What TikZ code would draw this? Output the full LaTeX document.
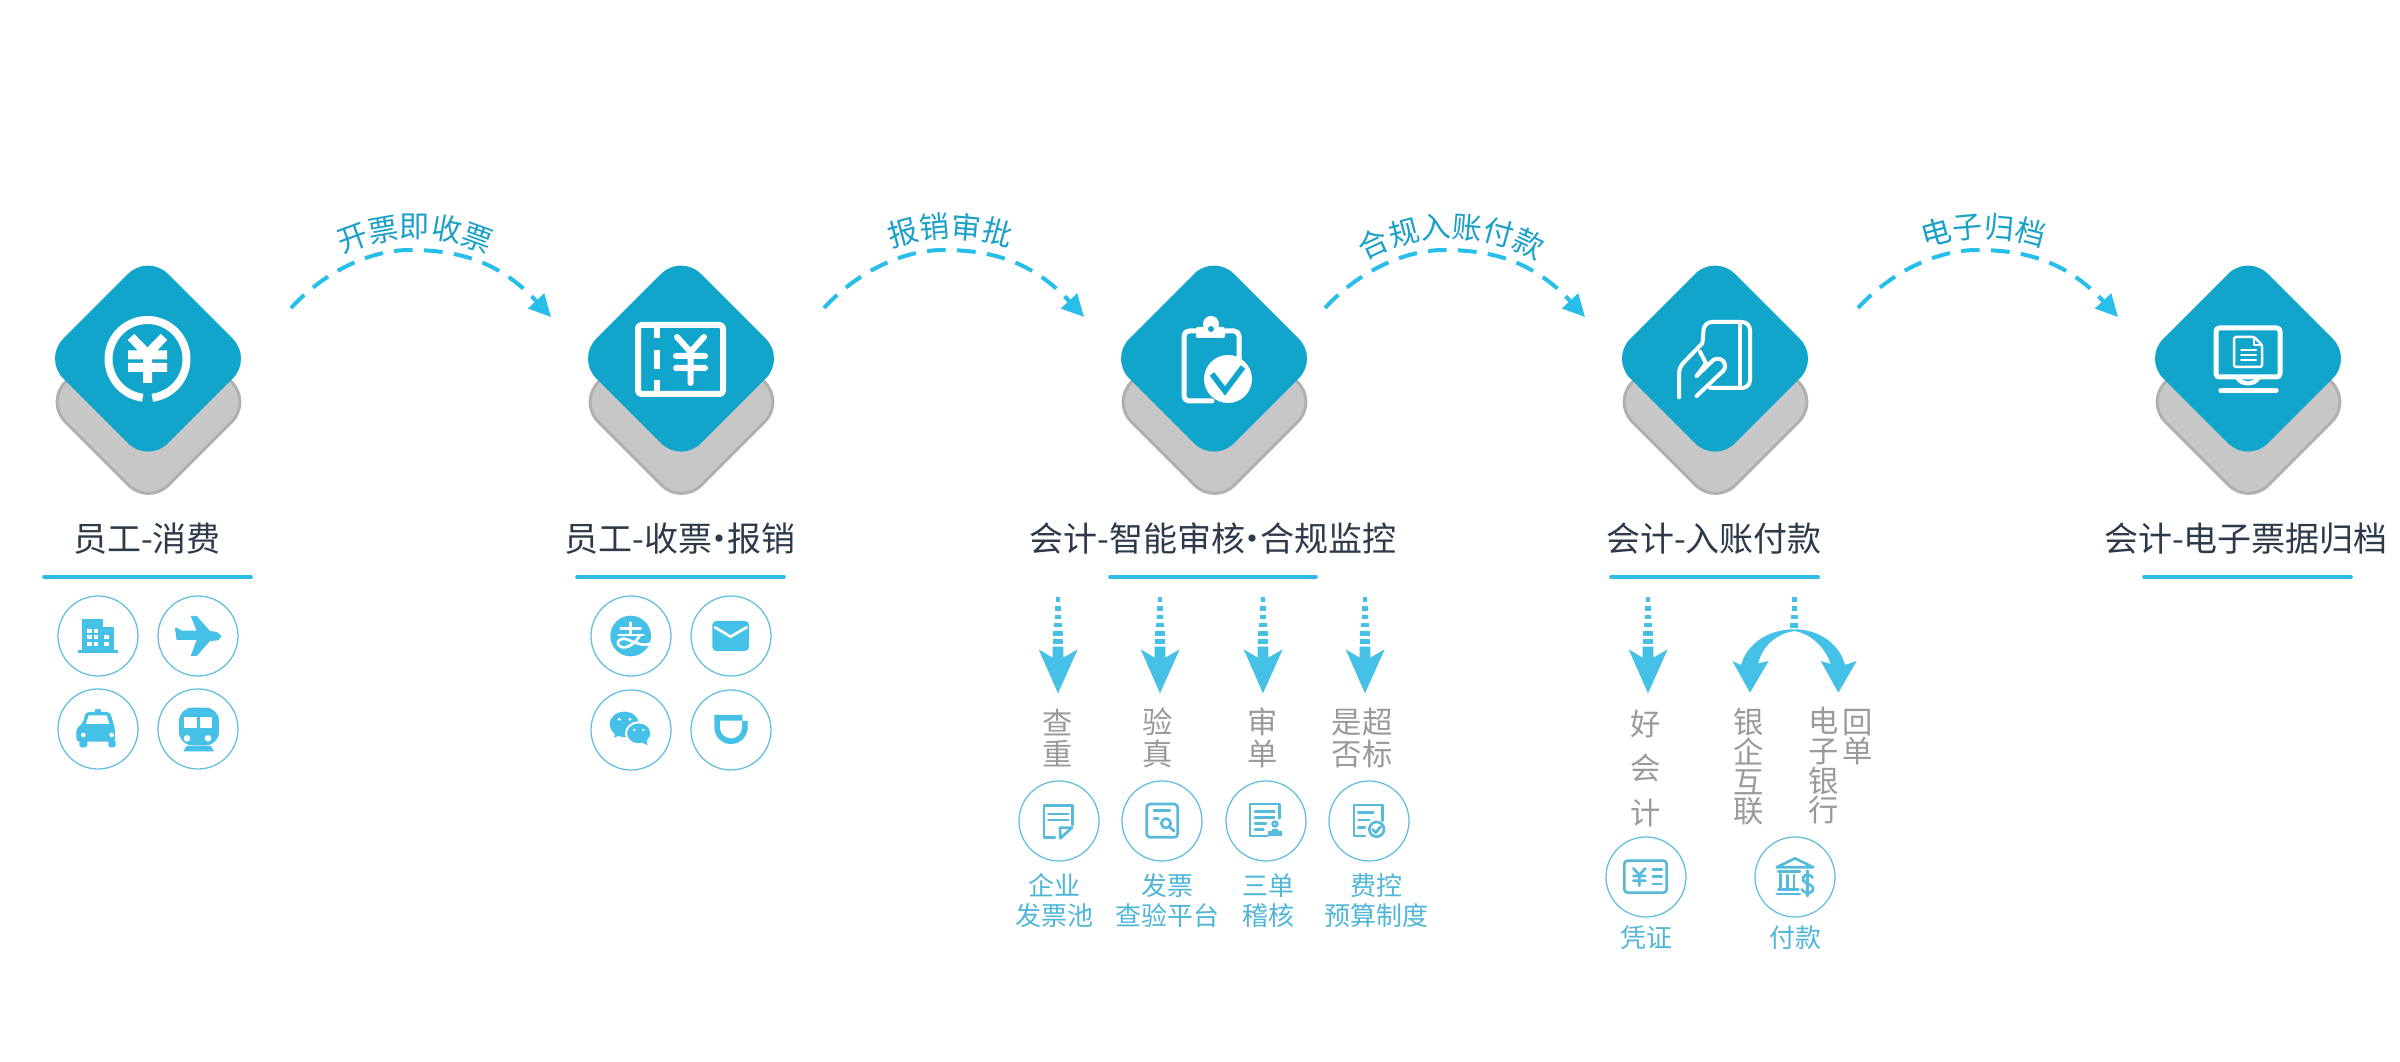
\documentclass[tikz,border=0pt]{standalone}
\usepackage{fontspec}
\setmainfont{Noto Sans CJK SC}
\usetikzlibrary{arrows.meta,decorations.text}
\definecolor{bluedia}{HTML}{11A5CC}
\definecolor{greydia}{HTML}{C7C7C8}
\definecolor{greyedge}{HTML}{B0B0B1}
\definecolor{flowc}{HTML}{27BFEA}
\definecolor{rulec}{HTML}{2FBDE6}
\definecolor{lblc}{HTML}{1BA0C8}
\definecolor{titlec}{HTML}{2D3A4A}
\definecolor{iconc}{HTML}{45C0E6}
\definecolor{ringc}{HTML}{62C0DE}
\definecolor{strokec}{HTML}{58BADB}
\definecolor{greytx}{HTML}{9A9A9A}
\definecolor{smallc}{HTML}{4FB6D8}
\def\lblfont{\fontsize{9}{10}\selectfont\color{lblc}}
\newcommand\mdot{\hspace{-0.27em}·\hspace{-0.27em}}
\newcommand\stagediamond[1]{%
  \path[fill=greydia,draw=greyedge,line width=0.9pt,rounded corners=8.4pt]
    (#1+0.5,299)--(#1+103.5,402)--(#1+0.5,505)--(#1-102.5,402)--cycle;
  \path[fill=bluedia,rounded corners=8.4pt]
    (#1,254)--(#1+104.6,358.6)--(#1,463.2)--(#1-104.6,358.6)--cycle;}
\newcommand\flowarc[2]{%
  \coordinate (#1s) at (291+#2,308);
  \coordinate (#1m) at (410+#2,250);
  \coordinate (#1e) at (551+#2,317);
  \draw[flowline] (#1s) .. controls +(35,-38) and +(-38,0) .. (#1m)
     .. controls +(48,0) and +(-52,-56) .. (#1e);}
\newcommand\arclabel[3]{%
  \path[decorate,decoration={text along path,text align=center,text={|\lblfont|#3}}]
    (#1-110,#2+40) .. controls (#1-46.4,#2-13.4) and (#1+46.4,#2-13.4) .. (#1+110,#2+40);}
\newcommand\dashbar[2]{%
  \foreach \ya/\yb/\hw in {#2}{\fill[iconc] (#1-\hw,\ya) rectangle (#1+\hw,\yb);}}
\newcommand\dnarrow[1]{%
  \begin{scope}[shift={(#1,580)},scale=1/3]
    \dashbar{0}{50/65/7,78/92/8,105/118/10,128/142/12,152/168/14,177/192/16}
    \fill[iconc] (-16,200)--(16,200)--(16,233)--(59,208)--(0,340)--(-58,208)--(-16,233)--cycle;
  \end{scope}}
\tikzset{
  flowline/.style={draw=flowc,line width=1.2pt,dash pattern=on 5.6pt off 3.4pt,
     -{Triangle[length=6.6pt,width=6.4pt]}},
  ruleline/.style={draw=rulec,line width=1.1pt,line cap=round},
  stagetitle/.style={anchor=base,inner sep=0pt,text=titlec,font=\fontsize{10.2}{12}\selectfont},
  ring/.style={circle,draw=ringc,line width=0.38pt,minimum size=24pt,inner sep=0pt,fill=white},
  greytext/.style={align=center,inner sep=0pt,text=greytx,font=\fontsize{9.1}{9.5}\selectfont},
  smalltext/.style={align=center,inner sep=0pt,text=smallc,font=\fontsize{7.8}{9}\selectfont},
  wh/.style={draw=white,line width=1.8pt,line cap=round,line join=round},
  sk/.style={draw=strokec,line width=0.8pt,line cap=round,line join=round},
  zm/.style={scale=1/3},
}
\begin{document}
\begin{tikzpicture}[x=0.3pt,y=-0.3pt]
\useasboundingbox (0,0) rectangle (2400,1062);
\fill[white] (0,0) rectangle (2400,1062);
% diamonds
\stagediamond{148}\stagediamond{681}\stagediamond{1214}\stagediamond{1715}\stagediamond{2248}
% flows
\flowarc{fa}{0}\flowarc{fb}{533}\flowarc{fc}{1034}\flowarc{fd}{1567}
\arclabel{415}{238}{开票即收票}
\arclabel{950}{238}{报销审批}
\arclabel{1451}{238}{合规入账付款}
\arclabel{1983}{238}{电子归档}
% titles
\node[stagetitle] (t1) at (147,552) {员工-消费};
\node[stagetitle] (t2) at (680,552) {员工-收票\mdot 报销};
\node[stagetitle] (t3) at (1213,552) {会计-智能审核\mdot 合规监控};
\node[stagetitle] (t4) at (1714,552) {会计-入账付款};
\node[stagetitle] (t5) at (2246,552) {会计-电子票据归档};
\draw[ruleline] (44,577)--(251,577);
\draw[ruleline] (577,577)--(784,577);
\draw[ruleline] (1110,577)--(1316,577);
\draw[ruleline] (1611,577)--(1818,577);
\draw[ruleline] (2144,577)--(2351,577);
% --- white diamond icons
% yuan ring
\draw[wh,line width=2.4pt,line cap=butt] (147.5,359) ++(97:39) arc (97:443:39);
\draw[wh,line width=2.7pt,line cap=butt] (131,337)--(147.5,354)--(164,337) (128,355)--(167,355) (128,367.5)--(167,367.5) (147.5,354)--(147.5,383);
% ticket
\draw[wh,rounded corners=1pt] (638,325) rectangle (723,394);
\draw[wh,line width=1.8pt,line cap=butt] (657,328)--(657,338) (657,350)--(657,369) (657,380)--(657,391);
\draw[wh] (677,337)--(690.5,352)--(704,337) (676,356)--(705,356) (676,368)--(705,368) (690.5,352)--(690.5,383);
% clipboard
\draw[wh,line width=1.5pt,rounded corners=1.5pt] (1196,331)--(1184,331)--(1184,401)--(1212,401) (1226,331)--(1239,331)--(1239,362);
\fill[white,rounded corners=0.6pt] (1196,327) rectangle (1225,338);
\fill[white] (1211,324) circle (8);
\fill[bluedia] (1211,329) circle (3);
\fill[white] (1228,379) circle (24);
\draw[draw=bluedia,line width=1.7pt] (1212,374)--(1225,391)--(1243,367);
% hand and card
\begin{scope}[shift={(1660,310)},zm]
  \draw[wh,line width=1.2pt,rounded corners=2.4pt] (128,95)--(132,36)--(270,36)--(270,234)--(150,234);
  \draw[wh,line width=1.2pt] (240,38)--(240,232);
  \draw[wh,line width=1.2pt,rounded corners=1.8pt] (57,262)--(57,172)--(127,100);
  \draw[wh,line width=1.2pt] (120,125)--(138,160)--(110,198);
  \draw[wh,line width=1.2pt] (110,198)--(160,150) .. controls (185,135) and (205,165) .. (190,182)--(110,258);
\end{scope}
% monitor
\draw[wh,line width=1.5pt,rounded corners=1pt] (2216,328) rectangle (2280,377);
\draw[wh,line width=1.3pt] (2238,378) .. controls (2240,385) and (2256,385) .. (2258,378);
\draw[wh,line width=1.6pt] (2221,390.5)--(2276,390.5);
\draw[wh,line width=0.75pt,rounded corners=0.5pt] (2254,337)--(2234,337)--(2234,367)--(2262,367)--(2262,345)--cycle;
\draw[wh,line width=0.75pt] (2254,337)--(2254,345)--(2262,345);
\draw[wh,line width=0.6pt] (2241,350)--(2256,350) (2241,355)--(2256,355) (2241,360)--(2256,360);
% --- small rings
\foreach \nm/\cx/\cy in {r1/98/636,r2/198/636,r3/98/729,r4/198/729,
   r5/631/636,r6/731/636,r7/631/730,r8/731/730,
   r9/1059/821,r10/1162/821,r11/1266/821,r12/1369/821,
   r13/1646/877,r14/1795/877}
  \node[ring] (\nm) at (\cx,\cy) {};
% building / plane / taxi / train
\begin{scope}[shift={(0,560)},zm]
  \fill[iconc] (246,178) rectangle (309,275);
  \fill[iconc] (309,202) rectangle (342,275);
  \fill[iconc] (234,270) rectangle (354,279);
  \foreach \wx in {262,282}\foreach \wy in {206,226,246}\fill[white] (\wx,\wy) rectangle +(13,12);
  \fill[white] (313,226) rectangle +(13,12);
  \fill[white] (313,246) rectangle +(13,12);
  \fill[iconc] (665,228)--(650,216)--(630,213)--(590,168)--(572,168)--(590,212)--(545,212)--(530,203)--(525,205)--(530,240)--(590,240)--(572,288)--(590,288)--(630,243)--(655,241)--cycle;
  \fill[iconc] (285,447) rectangle (303,456);
  \fill[iconc,rounded corners=1pt] (229,545)--(229,505)--(248,490)--(258,456)--(330,456)--(340,490)--(345,505)--(345,545)--cycle;
  \fill[iconc,rounded corners=0.5pt] (238,540) rectangle (262,562);
  \fill[iconc,rounded corners=0.5pt] (325,540) rectangle (347,562);
  \fill[white] (258,492)--(266,466)--(320,466)--(328,492)--cycle;
  \fill[white] (250,525) circle (7);
  \fill[white] (335,525) circle (7);
  \fill[iconc,rounded corners=4pt] (537,443) rectangle (657,556);
  \fill[white] (551,470) rectangle (590,503);
  \fill[white] (600,470) rectangle (635,503);
  \fill[white] (561,535) circle (10);
  \fill[white] (624,535) circle (10);
  \fill[iconc] (560,558)--(632,558)--(642,574)--(550,574)--cycle;
\end{scope}
% alipay / mail / wechat / didi
\begin{scope}[shift={(590,590)},zm]
  \fill[iconc] (122,138) circle (61);
  \draw[wh,line width=0.8pt] (92,115)--(152,115) (122,98)--(122,135) (85,135)--(160,135);
  \draw[wh,line width=0.8pt,line cap=butt] (150,135) .. controls (135,165) and (105,178) .. (92,170)
     .. controls (72,160) and (90,140) .. (110,148) .. controls (130,155) and (160,172) .. (182,160);
  \fill[iconc,rounded corners=1.2pt] (367,93) rectangle (477,183);
  \draw[wh,line width=0.8pt] (375,112)--(422,140)--(470,112);
  \fill[iconc] (103,403) ellipse (44 and 38);
  \fill[iconc] (75,430)--(72,443)--(95,434)--cycle;
  \fill[white] (88,388) circle (5);
  \fill[white] (120,388) circle (5);
  \fill[iconc,draw=white,line width=0.6pt] (146,430) ellipse (38 and 33);
  \fill[iconc] (158,458)--(172,466)--(170,446)--cycle;
  \fill[white] (133,420) circle (4);
  \fill[white] (160,420) circle (4);
  \fill[iconc] (373,375)--(457,375)--(457,393)--(473,393)--(473,412) arc (0:180:50)--cycle;
  \fill[white] (390,392)--(456,392)--(456,412) arc (0:180:33)--cycle;
\end{scope}
% document icons
\begin{scope}[shift={(1030,790)},zm]
  \draw[sk] (75,143)--(42,143)--(42,47)--(128,47)--(128,105);
  \draw[sk] (55,72)--(115,72) (55,90)--(115,90);
  \draw[sk] (90,113)--(126,113)--(91,145)--cycle;
  \draw[sk,rounded corners=1pt] (350,42) rectangle (443,142);
  \draw[sk] (372,62)--(420,62) (372,85)--(385,85);
  \draw[sk] (408,100) circle (14);
  \draw[sk] (418,110)--(432,123);
  \draw[sk] (712,138)--(660,138)--(660,42)--(748,42)--(748,85);
  \draw[sk] (675,65)--(733,65) (675,83)--(733,83) (675,100)--(708,100) (675,118)--(700,118);
  \draw[sk] (735,102) circle (7);
  \draw[sk] (728,122)--(742,122);
  \fill[strokec] (715,124) rectangle (755,138);
  \draw[sk] (1005,138)--(972,138)--(972,45)--(1058,45)--(1058,92);
  \draw[sk] (985,67)--(1030,67) (985,90)--(1018,90) (985,113)--(1005,113);
  \draw[sk] (1040,118) circle (22);
  \draw[sk] (1028,118)--(1037,128)--(1052,110);
\end{scope}
% voucher, bank
\begin{scope}[shift={(1580,580)},zm]
  \draw[sk,rounded corners=1pt] (133,842) rectangle (260,938);
  \draw[sk] (160,865)--(178,885)--(196,865) (160,888)--(196,888) (160,902)--(196,902) (178,885)--(178,918);
  \draw[sk] (218,868)--(245,868) (218,890)--(245,890) (218,912)--(245,912);
  \draw[sk] (590,862)--(645,835)--(700,862)--cycle;
  \draw[sk] (595,875)--(660,875) (602,882)--(602,925) (622,885)--(622,925) (642,885)--(642,925) (595,928)--(655,928) (590,942)--(660,942);
  \draw[sk] (698,893) .. controls (685,875) and (662,888) .. (670,902) .. controls (680,916) and (705,912) .. (698,932) .. controls (690,945) and (670,938) .. (665,928);
  \draw[sk] (682,872)--(682,948);
\end{scope}
% down arrows
\dnarrow{1058}\dnarrow{1160}\dnarrow{1263}\dnarrow{1365}\dnarrow{1648}
% fork arrow
\begin{scope}[shift={(1580,580)},zm]
  \dashbar{643}{50/65/7,78/92/8,105/118/10,128/144/12}
  \fill[iconc] (643,148) .. controls (560,148) and (500,195) .. (483,255)--(457,243)--(510,338)--(566,243)--(535,250) .. controls (545,200) and (590,160) .. (643,153) .. controls (690,160) and (735,200) .. (752,252)--(722,243)--(775,338)--(830,243)--(795,255) .. controls (780,195) and (720,148) .. (643,148)--cycle;
\end{scope}
% grey text
\node[greytext] (g1) at (1058,738) {查\\重};
\node[greytext] (g2) at (1158,738) {验\\真};
\node[greytext] (g3) at (1263,738) {审\\单};
\node[greytext] (g4) at (1362,738) {是超\\否标};
\node[greytext,font=\fontsize{9.1}{13.35}\selectfont] (g5) at (1646,768) {好\\会\\计};
\node[greytext,font=\fontsize{9.1}{8.9}\selectfont] (g6) at (1749,767) {银\\企\\互\\联};
\node[greytext,font=\fontsize{9.1}{8.9}\selectfont] (g7) at (1824,766) {电\\子\\银\\行};
\node[greytext,font=\fontsize{9.1}{8.7}\selectfont] (g8) at (1858,737) {回\\单};
% small labels
\node[smalltext] (s1) at (1054,901) {企业\\发票池};
\node[smalltext] (s2) at (1167,901) {发票\\查验平台};
\node[smalltext] (s3) at (1268,901) {三单\\稽核};
\node[smalltext] (s4) at (1376,901) {费控\\预算制度};
\node[smalltext] (s5) at (1646,938) {凭证};
\node[smalltext] (s6) at (1795,938) {付款};
\end{tikzpicture}
\end{document}
